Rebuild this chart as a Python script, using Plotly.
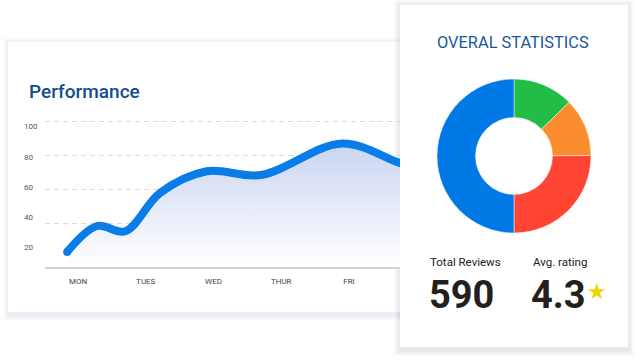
import plotly.graph_objects as go

# ---------------- data ----------------
days = ["MON", "TUES", "WED", "THUR", "FRI"]
day_pos = [0, 1, 2, 3, 4]
# performance curve (x in day units, y in score)
perf_x = [-0.16, 0.28, 0.70, 1.21, 1.90, 2.70, 3.90, 4.75, 5.20]
perf_y = [16.7, 34.0, 30.5, 56.0, 70.5, 68.0, 89.0, 76.0, 70.0]
y_labels = [20, 40, 60, 80, 100]
grid_vals = [36.0, 58.67, 81.33, 104.0]

slice_labels = ["Green", "Orange", "Red", "Blue"]
slice_values = [75, 72, 148, 295]
slice_colors = ["#23bc46", "#fa8d2e", "#fe4433", "#0079e6"]

total_reviews = 590
avg_rating = 4.3

W, H = 638, 360

def px(x):
    return x / W

def py(y):
    return 1 - y / H

fig = go.Figure()

# area + line
fig.add_trace(go.Scatter(
    x=perf_x, y=perf_y, mode="lines+markers",
    line=dict(color="#0a7ce7", width=8, shape="spline", smoothing=1.0),
    marker=dict(size=[8] + [0] * (len(perf_x) - 1), color="#0a7ce7",
                line=dict(width=0), opacity=1),
    fill="tozeroy",
    fillgradient=dict(type="vertical", start=6.7, stop=90,
                      colorscale=[[0, "rgba(255,255,255,1)"], [1, "rgba(200,212,240,1)"]]),
    hoverinfo="skip", showlegend=False,
))

fig.add_trace(go.Pie(
    labels=slice_labels, values=slice_values, hole=0.5, sort=False,
    direction="clockwise", rotation=0,
    marker=dict(colors=slice_colors, line=dict(color="rgba(255,255,255,0.6)", width=0.8)),
    textinfo="none", showlegend=False, hoverinfo="skip",
    domain=dict(x=[px(514 - 77), px(514 + 77)], y=[py(156 + 77), py(156 - 77)]),
))

shapes = []
# left card shadow + card
for i in range(6):
    e = i + 1
    shapes.append(dict(type="rect", xref="paper", yref="paper", layer="below",
                       x0=px(8 - e * 0.8), x1=px(400 + e), y0=py(312 + 3 + e), y1=py(42 + 1 - e * 0.8),
                       line=dict(width=0), fillcolor="rgba(40,60,110,0.016)"))
shapes.append(dict(type="rect", xref="paper", yref="paper", layer="below",
                   x0=px(8), x1=px(400), y0=py(312), y1=py(42),
                   line=dict(width=0), fillcolor="white"))
# right card shadow + card
for i in range(6):
    e = i + 1
    shapes.append(dict(type="rect", xref="paper", yref="paper", layer="below",
                       x0=px(400 - e), x1=px(628 + e), y0=py(347 + 3 + e), y1=py(5 + 1 - e),
                       line=dict(width=0), fillcolor="rgba(40,60,110,0.02)"))
shapes.append(dict(type="rect", xref="paper", yref="paper", layer="below",
                   x0=px(400), x1=px(628), y0=py(347), y1=py(5),
                   line=dict(width=0), fillcolor="white"))

annotations = []
for v in y_labels:
    annotations.append(dict(xref="paper", yref="y", x=px(22), y=v, text=str(v),
                            xanchor="left", yanchor="middle", showarrow=False,
                            font=dict(family="Roboto", size=8, color="#555555")))
annotations += [
    dict(xref="paper", yref="paper", x=px(27), y=py(91), text="Performance",
         xanchor="left", yanchor="middle", showarrow=False,
         font=dict(family="Roboto", size=19, color="#114d8d", weight=500)),
    dict(xref="paper", yref="paper", x=px(513), y=py(42), text="OVERAL STATISTICS",
         xanchor="center", yanchor="middle", showarrow=False,
         font=dict(family="Roboto", size=16.4, color="#1b579c")),
    dict(xref="paper", yref="paper", x=px(428), y=py(262), text="Total Reviews",
         xanchor="left", yanchor="middle", showarrow=False,
         font=dict(family="Roboto", size=11.5, color="#222222")),
    dict(xref="paper", yref="paper", x=px(531), y=py(262), text="Avg. rating",
         xanchor="left", yanchor="middle", showarrow=False,
         font=dict(family="Roboto", size=11.5, color="#222222")),
    dict(xref="paper", yref="paper", x=px(427), y=py(295), text=str(total_reviews),
         xanchor="left", yanchor="middle", showarrow=False,
         font=dict(family="Roboto", size=38, color="#241f1c", weight=700)),
    dict(xref="paper", yref="paper", x=px(529), y=py(295), text=str(avg_rating),
         xanchor="left", yanchor="middle", showarrow=False,
         font=dict(family="Roboto", size=38, color="#241f1c", weight=700)),
    dict(xref="paper", yref="paper", x=px(597), y=py(291), text="★",
         xanchor="center", yanchor="middle", showarrow=False,
         font=dict(family="DejaVu Sans", size=22, color="#ecd800")),
]

fig.update_layout(
    width=W, height=H, margin=dict(l=0, r=0, t=0, b=0),
    paper_bgcolor="white", plot_bgcolor="rgba(0,0,0,0)",
    shapes=shapes, annotations=annotations,
    xaxis=dict(domain=[px(45), px(400)], range=[-0.487, 4.753],
               tickvals=day_pos, ticktext=days, ticks="outside", ticklen=6,
               tickcolor="rgba(0,0,0,0)", showgrid=False, zeroline=False,
               showline=True, linecolor="#d2d2d2", linewidth=1.5,
               tickfont=dict(family="Roboto", size=8, color="#444444")),
    yaxis=dict(domain=[py(267), py(118)], range=[6.67, 106],
               tickvals=grid_vals, showticklabels=False, showgrid=True,
               gridcolor="#dadada", gridwidth=1, griddash="5px,4px",
               zeroline=False, showline=False),
)

fig.write_html("out.html", config={"displayModeBar": False},
               post_script="document.body.style.margin='0';document.body.style.overflow='hidden';")
